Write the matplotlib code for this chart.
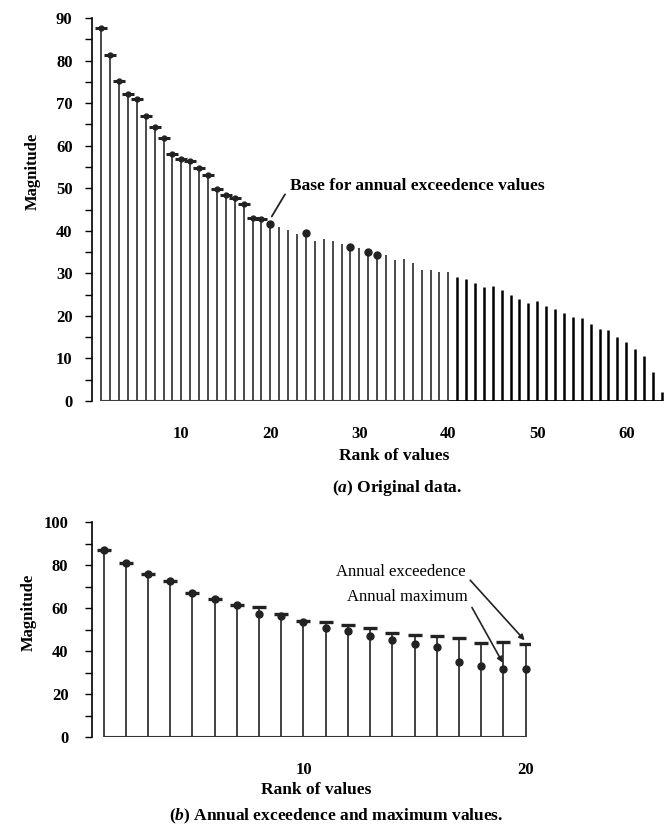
import matplotlib
matplotlib.use("Agg")
import matplotlib.pyplot as plt
import numpy as np

plt.rcParams['font.family'] = 'Liberation Serif'
plt.rcParams['font.weight'] = 'bold'
plt.rcParams['mathtext.fontset'] = 'custom'
plt.rcParams['mathtext.it'] = 'Liberation Serif:italic:bold'
plt.rcParams['mathtext.rm'] = 'Liberation Serif:bold'

# (a) original data, ranked magnitudes
orig_values = [87.7, 81.4, 75.2, 72.1, 70.9, 67.0, 64.5, 61.9, 58.0, 56.9,
               56.4, 54.8, 53.2, 49.7, 48.3, 47.8, 46.2, 43.1, 42.8, 41.7,
               40.9, 40.3, 39.3, 39.5, 37.7, 38.1, 37.5, 37.0, 36.3, 35.9,
               34.9, 34.3, 34.4, 33.2, 33.4, 32.4, 30.8, 30.8, 30.3, 30.3,
               29.2, 28.7, 27.7, 26.9, 27.0, 26.1, 24.9, 24.0, 23.0, 23.4,
               22.4, 21.6, 20.6, 19.7, 19.5, 18.1, 16.9, 16.7, 15.1, 13.8,
               12.3, 10.6, 6.7, 2.0]
exceed_ranks = list(range(1, 20))       # marked with dash+dot
dot_ranks = [20, 24, 29, 31, 32]        # marked with dot only

# (b) annual exceedence and annual maximum values
exceed_values = [86.9, 80.7, 75.7, 72.6, 67.2, 64.3, 61.2, 60.6, 57.2, 54.1,
                 53.6, 52.0, 50.7, 48.5, 47.6, 47.0, 46.2, 43.7, 44.2, 43.1]
max_values = [86.9, 80.7, 75.7, 72.6, 67.2, 64.3, 61.2, 57.0, 56.5, 53.3,
              50.5, 49.3, 47.0, 45.0, 43.1, 41.9, 34.9, 32.9, 31.8, 31.4]

W, H = 669, 832
fig = plt.figure(figsize=(W / 100, H / 100), dpi=100)


def px_axes(x0, x1, y_top, y_bot):
    return fig.add_axes([x0 / W, 1 - y_bot / H, (x1 - x0) / W, (y_bot - y_top) / H])


# ---------- top chart ----------
ax1 = px_axes(92, 669, 18, 401)
r = np.arange(1, len(orig_values) + 1)
v = np.array(orig_values)
left = r <= 40
ax1.vlines(r[left], 0, v[left], color='#3c3c3c', lw=1.3)
ax1.vlines(r[~left], 0, v[~left], color='black', lw=1.8)
ax1.hlines(0, 1, 40, color='#3c3c3c', lw=1.5)
ax1.hlines(0, 40, 64, color='black', lw=2)
ex = np.array(exceed_ranks)
ax1.plot(ex, v[ex - 1], ls='none', marker='_', ms=9, mew=2.2, color='#222222')
ax1.plot(ex, v[ex - 1], ls='none', marker='o', ms=3.5, color='#222222')
dr = np.array(dot_ranks)
ax1.plot(dr, v[dr - 1], ls='none', marker='o', ms=5, color='#222222')

ax1.set_xlim(-0.04, 64.8)
ax1.set_ylim(0, 90)
ax1.set_yticks(np.arange(0, 91, 10))
ax1.set_yticks(np.arange(5, 90, 10), minor=True)
ax1.set_xticks(np.arange(10, 61, 10))
ax1.tick_params(axis='y', which='both', direction='out', length=5, width=1,
                labelsize=12, pad=9)
ax1.tick_params(axis='x', length=0, labelsize=12, pad=18)
for s in ['top', 'right', 'bottom']:
    ax1.spines[s].set_visible(False)
ax1.spines['left'].set_linewidth(1.2)
ax1.set_ylabel('Magnitude', fontsize=12, fontweight='bold')
ax1.yaxis.set_label_coords(-0.088, 0.6)

ax1.annotate('Base for annual exceedence values', xy=(20, 42.8), xytext=(22.2, 50.5),
             fontsize=12.5, fontweight='bold', va='center', ha='left',
             arrowprops=dict(arrowstyle='-', color='#222222', lw=1.3,
                             shrinkA=3, shrinkB=2, relpos=(0, 0.5)))

fig.text(394 / W, 1 - 456 / H, 'Rank of values', ha='center', va='center',
         fontsize=12.5, fontweight='bold')
fig.text(397 / W, 1 - 488 / H, r'($\mathit{a}$) Original data.', ha='center',
         va='center', fontsize=12.5, fontweight='bold')

# ---------- bottom chart ----------
ax2 = px_axes(92, 530, 522, 737)
r2 = np.arange(1, len(exceed_values) + 1)
ax2.vlines(r2, 0, exceed_values, color='#333333', lw=1.3)
ax2.hlines(0, 1, 20, color='#333333', lw=1.5)
ax2.plot(r2, exceed_values, ls='none', marker='_', ms=10, mew=2.4, color='#222222')
ax2.plot(r2, max_values, ls='none', marker='o', ms=5, color='#222222')

ax2.set_xlim(0.48, 20.2)
ax2.set_ylim(0, 100)
ax2.set_yticks(np.arange(0, 101, 20))
ax2.set_yticks(np.arange(10, 100, 20), minor=True)
ax2.set_xticks([10, 20])
ax2.tick_params(axis='y', which='both', direction='out', length=5, width=1,
                labelsize=12, pad=12)
ax2.tick_params(axis='x', length=0, labelsize=12, pad=18)
for s in ['top', 'right', 'bottom']:
    ax2.spines[s].set_visible(False)
ax2.spines['left'].set_linewidth(1.2)
ax2.set_ylabel('Magnitude', fontsize=12, fontweight='bold')
ax2.yaxis.set_label_coords(-0.126, 0.58)

ax2.annotate('Annual exceedence', xy=(20, 44.5), xytext=(17.3, 76.8),
             fontsize=12, fontweight='normal', va='center', ha='right',
             annotation_clip=False,
             arrowprops=dict(arrowstyle='-|>', color='#222222', lw=1.2,
                             mutation_scale=8, shrinkA=2, shrinkB=1,
                             relpos=(1, 0.3)))
ax2.annotate('Annual maximum', xy=(19, 34), xytext=(17.4, 65.2),
             fontsize=12, fontweight='normal', va='center', ha='right',
             annotation_clip=False,
             arrowprops=dict(arrowstyle='-|>', color='#222222', lw=1.2,
                             mutation_scale=8, shrinkA=2, shrinkB=1,
                             relpos=(1, 0.3)))

fig.text(316 / W, 1 - 790 / H, 'Rank of values', ha='center', va='center',
         fontsize=12.5, fontweight='bold')
fig.text(336 / W, 1 - 816 / H, r'($\mathit{b}$) Annual exceedence and maximum values.',
         ha='center', va='center', fontsize=12.5, fontweight='bold')

fig.savefig('out.png', dpi=100)
